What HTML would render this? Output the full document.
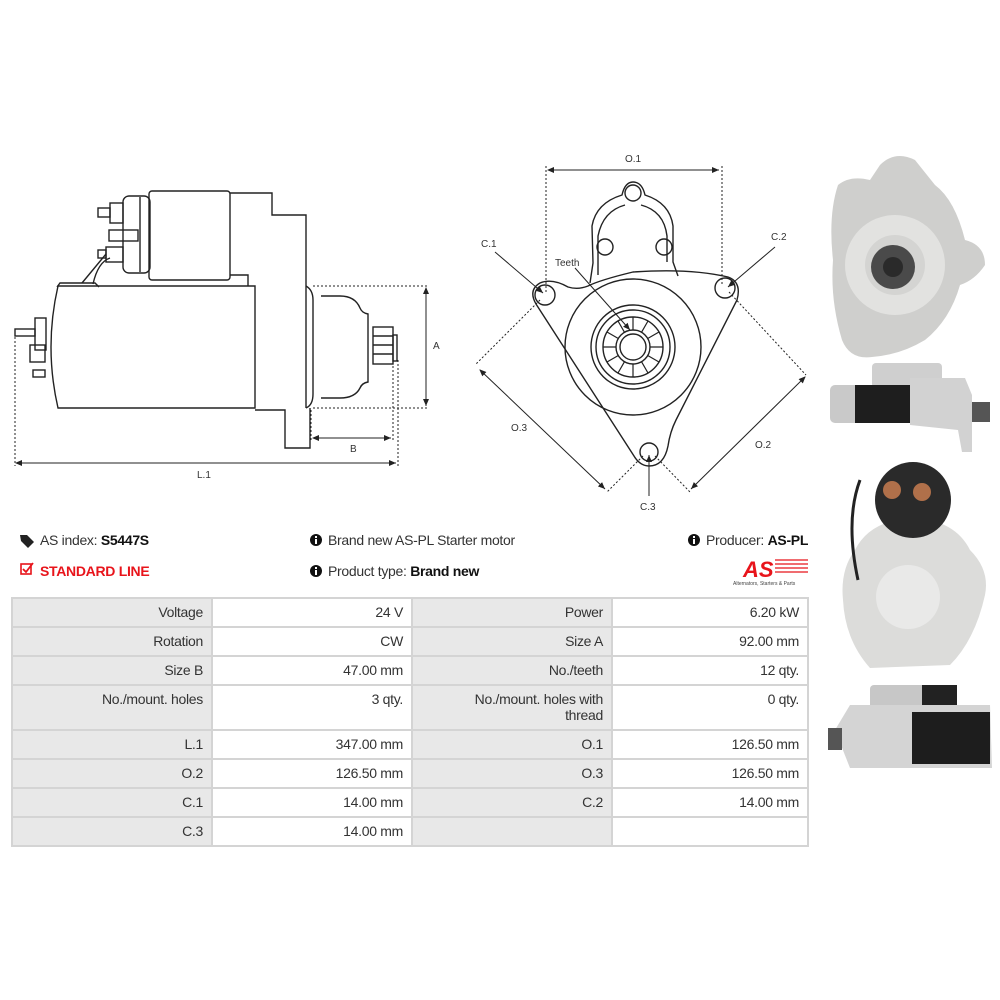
<!DOCTYPE html>
<html><head><meta charset="utf-8"><style>
html,body{margin:0;padding:0;background:#fff;}
body{width:1000px;height:1000px;position:relative;overflow:hidden;font-family:"Liberation Sans Narrow","Liberation Sans",sans-serif;color:#333;}
.t{position:absolute;font-size:14px;white-space:nowrap;line-height:16px;letter-spacing:-0.3px;}
b{color:#111;}
table{position:absolute;left:11px;top:597px;border-collapse:separate;border-spacing:2px;background:#d4d4d4;width:798px;font-size:14px;letter-spacing:-0.3px;}
td{text-align:right;padding:5px 8px 0 8px;vertical-align:top;height:22px;line-height:16px;}
td.g{background:#e8e8e8;}
td.w{background:#fff;}
svg{position:absolute;left:0;top:0;}
</style></head><body>
<svg width="1000" height="1000" viewBox="0 0 1000 1000" fill="none" stroke="#222" stroke-width="1.4">
<defs>
<marker id="ar" markerWidth="8" markerHeight="8" refX="7" refY="4" orient="auto" markerUnits="userSpaceOnUse"><path d="M0,1 L7,4 L0,7 Z" fill="#222" stroke="none"/></marker>
<marker id="al" markerWidth="8" markerHeight="8" refX="1" refY="4" orient="auto" markerUnits="userSpaceOnUse"><path d="M7,1 L0,4 L7,7 Z" fill="#222" stroke="none"/></marker>
</defs>
<rect x="149" y="191" width="81" height="89" rx="3"/>
<rect x="123" y="196" width="27" height="77" rx="6"/>
<line x1="140" y1="197" x2="140" y2="272"/>
<rect x="110" y="203" width="13" height="20"/>
<rect x="98" y="208" width="12" height="9"/>
<rect x="109" y="230" width="29" height="11"/>
<rect x="106" y="247" width="17" height="15"/>
<rect x="98" y="250" width="8" height="8"/>
<polyline points="230,193 272,193 272,215 306,215 306,286"/>
<polyline points="230,275 248,275 248,286"/>
<path d="M82,283 L106,254 M93,284 Q98,262 110,258"/>
<path d="M57,287 L60,283 L95,283 L99,287"/>
<path d="M255,286 L58,286 Q44,347 58,408 L255,408 Z"/>
<rect x="35" y="318" width="11" height="32"/>
<rect x="30" y="345" width="15" height="17"/>
<rect x="15" y="329" width="20" height="7"/>
<rect x="33" y="370" width="12" height="7"/>
<path d="M306,286 Q313,290 313,300 L313,394 Q313,405 306,408"/>
<path d="M255,410 L285,410 L285,448 L310,448 L310,408"/>
<path d="M306,286 L306,408"/>
<path d="M321,296 L340,296 Q355,296 360,308 Q362,313 368,314 L368,382 Q362,383 360,388 Q355,398 340,398 L321,398"/>
<rect x="373" y="327" width="20" height="37"/>
<path d="M373,336 H393 M373,345 H393 M373,354 H393"/>
<rect x="393" y="335" width="4" height="26"/>
<g stroke-dasharray="2,2" stroke-width="1">
<line x1="313" y1="286" x2="428" y2="286"/><line x1="313" y1="408" x2="428" y2="408"/>
<line x1="311" y1="410" x2="311" y2="441"/><line x1="393" y1="362" x2="393" y2="441"/>
<line x1="15" y1="337" x2="15" y2="466"/><line x1="398" y1="360" x2="398" y2="466"/>
</g>
<line x1="426" y1="288" x2="426" y2="406" marker-start="url(#al)" marker-end="url(#ar)" stroke-width="1"/>
<line x1="313" y1="438" x2="391" y2="438" marker-start="url(#al)" marker-end="url(#ar)" stroke-width="1"/>
<line x1="16" y1="463" x2="396" y2="463" marker-start="url(#al)" marker-end="url(#ar)" stroke-width="1"/>
<g fill="#333" stroke="none" font-size="10" font-family="Liberation Sans,sans-serif">
<text x="433" y="349">A</text><text x="350" y="452">B</text><text x="197" y="478">L.1</text>
<text x="625" y="162">O.1</text><text x="481" y="247">C.1</text><text x="771" y="240">C.2</text>
<text x="555" y="266">Teeth</text><text x="640" y="510">C.3</text><text x="511" y="431">O.3</text><text x="755" y="448">O.2</text>
</g>
<g stroke-dasharray="2,2" stroke-width="1">
<line x1="546" y1="166" x2="546" y2="292"/><line x1="722" y1="166" x2="722" y2="286"/>
<line x1="540" y1="300" x2="475" y2="365"/><line x1="643" y1="456" x2="607" y2="492"/>
<line x1="729" y1="292" x2="806" y2="375"/><line x1="655" y1="456" x2="690" y2="492"/>
</g>
<line x1="548" y1="170" x2="719" y2="170" marker-start="url(#al)" marker-end="url(#ar)" stroke-width="1"/>
<line x1="480" y1="370" x2="605" y2="489" marker-start="url(#al)" marker-end="url(#ar)" stroke-width="1"/>
<line x1="805" y1="377" x2="691" y2="489" marker-start="url(#al)" marker-end="url(#ar)" stroke-width="1"/>
<path d="M568,287 Q578,290 588,286 Q600,280 633,272 Q690,268 728,277 Q742,282 737,300 L676,420 Q670,432 668,446 Q664,466 649,466 Q640,466 634,456 L536,304 Q528,290 540,283 Q552,278 568,287 Z"/>
<path d="M590,283 L593,263 L592,226 Q596,203 622,195 Q625,182 633,182 Q642,182 645,195 Q670,203 673,226 L673,262 L678,276"/>
<path d="M598,275 L598,236 Q603,211 625,205 M641,205 Q664,211 667,236 L667,262"/>
<circle cx="633" cy="193" r="8"/><circle cx="605" cy="247" r="8"/><circle cx="664" cy="247" r="8"/>
<circle cx="545" cy="295" r="10"/><circle cx="725" cy="288" r="10"/><circle cx="649" cy="452" r="9"/>
<circle cx="633" cy="347" r="68"/><circle cx="633" cy="347" r="42"/><circle cx="633" cy="347" r="37"/>
<circle cx="633" cy="347" r="30"/><circle cx="633" cy="347" r="17"/><circle cx="633" cy="347" r="13"/>
<g stroke-width="1.2">
<path d="M633,317 V330 M648,321 L641.5,332.3 M659,332 L647.7,338.5 M663,347 H650 M659,362 L647.7,355.5 M648,373 L641.5,361.7 M633,377 V364 M618,373 L624.5,361.7 M607,362 L618.3,355.5 M603,347 H616 M607,332 L618.3,338.5 M618,321 L624.5,332.3"/>
</g>
<line x1="495" y1="252" x2="543" y2="293" marker-end="url(#ar)" stroke-width="1"/>
<line x1="775" y1="247" x2="728" y2="287" marker-end="url(#ar)" stroke-width="1"/>
<line x1="575" y1="268" x2="630" y2="330" marker-end="url(#ar)" stroke-width="1"/>
<line x1="649" y1="496" x2="649" y2="455" marker-end="url(#ar)" stroke-width="1"/>
<!-- photos -->
<g stroke="none">
<path d="M838,185 Q850,175 870,180 L880,165 Q895,150 915,160 L935,185 Q955,200 965,240 Q985,245 985,265 Q975,280 960,285 Q950,320 925,340 Q900,355 872,357 Q850,360 842,340 Q830,300 833,260 Q828,215 838,185 Z" fill="#cfcfcd"/>
<circle cx="895" cy="265" r="50" fill="#e2e2e0"/>
<circle cx="895" cy="265" r="30" fill="#d4d4d2"/>
<circle cx="893" cy="267" r="22" fill="#4a4a4a"/>
<circle cx="893" cy="267" r="10" fill="#2a2a2a"/>
<rect x="872" y="363" width="70" height="25" rx="4" fill="#cfcfcf"/>
<rect x="830" y="385" width="90" height="38" rx="5" fill="#c9c9c9"/>
<rect x="855" y="385" width="55" height="38" fill="#1e1e1e"/>
<path d="M910,378 L965,378 L972,395 L972,452 L962,452 L958,430 L910,425 Z" fill="#d2d2d2"/>
<rect x="972" y="402" width="18" height="20" fill="#555"/>
<path d="M855,550 Q870,520 913,518 Q955,520 970,550 Q990,570 985,595 Q975,640 950,665 L870,668 Q845,640 843,600 Q840,570 855,550 Z" fill="#dcdcda"/>
<circle cx="908" cy="597" r="32" fill="#e9e9e8"/>
<circle cx="913" cy="500" r="38" fill="#2a2a2a"/>
<circle cx="892" cy="490" r="9" fill="#b0704a"/><circle cx="922" cy="492" r="9" fill="#b0704a"/>
<path d="M860,480 Q845,520 858,580" stroke="#222" stroke-width="3" fill="none"/>
<rect x="870" y="685" width="85" height="28" rx="4" fill="#c7c7c7"/>
<rect x="922" y="685" width="35" height="28" fill="#222"/>
<path d="M835,730 L850,705 L990,705 L992,768 L850,768 Z" fill="#d4d4d4"/>
<rect x="912" y="712" width="78" height="52" fill="#1d1d1d"/>
<rect x="828" y="728" width="14" height="22" fill="#555"/>
</g>
<path d="M20,535 L27,535 L34,542 L28,548 L21,541 Z" fill="#222" stroke="none"/>
<rect x="21" y="564" width="10" height="10" fill="none" stroke="#e8141b" stroke-width="1.6"/>
<path d="M23,569 L26,572 L33,563" stroke="#e8141b" stroke-width="1.8"/>
<g fill="#111" stroke="none"><circle cx="316" cy="540" r="6"/><circle cx="316" cy="571" r="6"/><circle cx="694" cy="540" r="6"/></g>
<g fill="#fff" stroke="none"><rect x="315" y="539" width="2" height="5"/><rect x="315" y="536" width="2" height="2"/><rect x="315" y="570" width="2" height="5"/><rect x="315" y="567" width="2" height="2"/><rect x="693" y="539" width="2" height="5"/><rect x="693" y="536" width="2" height="2"/></g>
<text x="743" y="577" fill="#e8141b" stroke="none" font-size="22" font-weight="bold" font-style="italic" font-family="Liberation Sans,sans-serif">AS</text>
<g stroke="#e8141b" stroke-width="1.3"><line x1="775" y1="560" x2="808" y2="560"/><line x1="775" y1="564" x2="808" y2="564"/><line x1="775" y1="568" x2="808" y2="568"/><line x1="775" y1="572" x2="808" y2="572"/></g>
<text x="733" y="585" fill="#444" stroke="none" font-size="5" font-family="Liberation Sans,sans-serif">Alternators, Starters &amp; Parts</text>
</svg>
<div class="t" style="left:40px;top:532px;">AS index: <b>S5447S</b></div>
<div class="t" style="left:40px;top:563px;color:#e8141b;font-weight:bold;">STANDARD LINE</div>
<div class="t" style="left:328px;top:532px;">Brand new AS-PL Starter motor</div>
<div class="t" style="left:328px;top:563px;">Product type: <b>Brand new</b></div>
<div class="t" style="left:706px;top:532px;">Producer: <b>AS-PL</b></div>
<table>
<tr><td class="g" style="width:182px">Voltage</td><td class="w" style="width:182px">24 V</td><td class="g" style="width:182px">Power</td><td class="w">6.20 kW</td></tr>
<tr><td class="g">Rotation</td><td class="w">CW</td><td class="g">Size A</td><td class="w">92.00 mm</td></tr>
<tr><td class="g">Size B</td><td class="w">47.00 mm</td><td class="g">No./teeth</td><td class="w">12 qty.</td></tr>
<tr><td class="g" style="height:38px">No./mount. holes</td><td class="w">3 qty.</td><td class="g">No./mount. holes with<br>thread</td><td class="w">0 qty.</td></tr>
<tr><td class="g">L.1</td><td class="w">347.00 mm</td><td class="g">O.1</td><td class="w">126.50 mm</td></tr>
<tr><td class="g">O.2</td><td class="w">126.50 mm</td><td class="g">O.3</td><td class="w">126.50 mm</td></tr>
<tr><td class="g">C.1</td><td class="w">14.00 mm</td><td class="g">C.2</td><td class="w">14.00 mm</td></tr>
<tr><td class="g">C.3</td><td class="w">14.00 mm</td><td class="g"></td><td class="w"></td></tr>
</table>
</body></html>
